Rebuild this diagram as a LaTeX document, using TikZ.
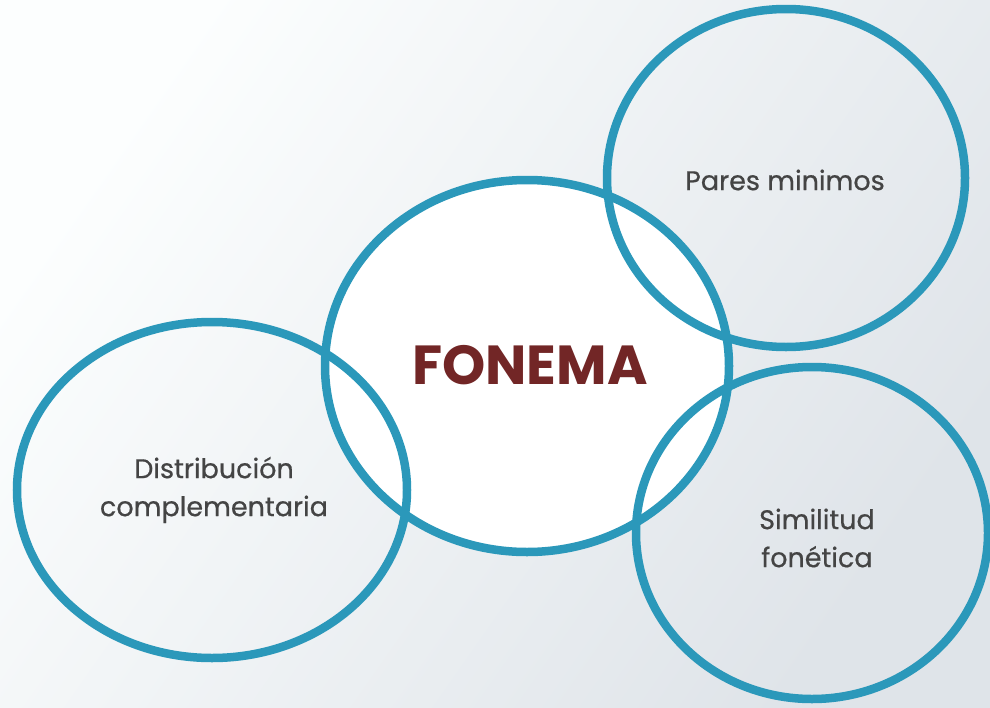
\documentclass[tikz,border=0pt]{standalone}
\usepackage{fontspec}
\setmainfont{Poppins}
\newfontfamily\lblfont[FakeBold=0.6]{Poppins}
\usetikzlibrary{shapes.geometric}
\definecolor{ring}{HTML}{2B98BA}
\definecolor{maroon}{HTML}{722626}
\definecolor{txt}{HTML}{444444}
\definecolor{bgA}{HTML}{FCFEFE}
\definecolor{bgB}{HTML}{DFE4E9}
\tikzset{
  ringnode/.style={ellipse, draw=ring, line width=8.5pt, inner sep=0pt},
  lbl/.style={text=txt, font=\lblfont\fontsize{27}{38}\selectfont, align=center},
}
\begin{document}
\begin{tikzpicture}[x=1pt,y=-1pt]
\useasboundingbox (0,0) rectangle (990,707);
\shade[shading=axis, left color=bgA, right color=bgB, shading angle=55] (0,0) rectangle (990,707);
\node[ringnode, fill=white, minimum width=404pt, minimum height=372pt] (fonema) at (527,366) {};
\node[ringnode, minimum width=358pt, minimum height=338pt] (pares) at (786,178) {};
\node[ringnode, minimum width=390pt, minimum height=336pt] (dist) at (212,490) {};
\node[ringnode, minimum width=352pt, minimum height=332pt] (simil) at (812,533) {};
\node[text=maroon, font=\fontsize{55}{58}\selectfont\bfseries] (t0) at (530,365) {FONEMA};
\node[lbl] (t1) at (785,180) {Pares minimos};
\node[lbl] (t2) at (214,490) {Distribución\\complementaria};
\node[lbl] (t3) at (817,538) {Similitud\\fonética};
\end{tikzpicture}
\end{document}
